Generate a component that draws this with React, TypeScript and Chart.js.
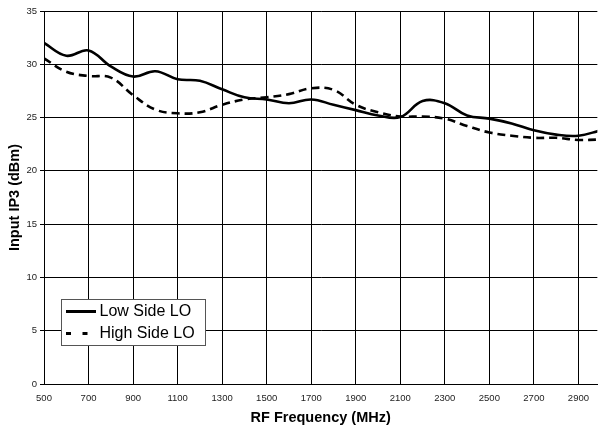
import React, { useEffect, useRef } from "react";
import { Chart, registerables } from "chart.js";

Chart.register(...registerables);

const freqMHz = [500, 600, 700, 800, 900, 1000, 1100, 1200, 1300, 1400, 1500, 1600, 1700, 1800, 1900, 2000, 2100, 2200, 2300, 2400, 2500, 2600, 2700, 2800, 2900, 3000];
const lowSideLO = [32.0, 30.8, 31.3, 29.8, 28.85, 29.35, 28.6, 28.45, 27.65, 26.9, 26.7, 26.35, 26.7, 26.2, 25.7, 25.2, 25.05, 26.55, 26.35, 25.2, 24.9, 24.45, 23.8, 23.4, 23.3, 23.8];
const highSideLO = [30.55, 29.3, 28.9, 28.75, 27.1, 25.75, 25.4, 25.5, 26.2, 26.7, 26.9, 27.2, 27.75, 27.6, 26.2, 25.5, 25.1, 25.1, 24.9, 24.2, 23.6, 23.3, 23.1, 23.1, 22.9, 22.95];
const xTickValues = [500, 700, 900, 1100, 1300, 1500, 1700, 1900, 2100, 2300, 2500, 2700, 2900];
const seriesNames = ["Low Side LO", "High Side LO"];

const FONT = "'Liberation Sans', Arial, sans-serif";

const legendPlugin = {
  id: "boxLegend",
  afterDraw(chart: any) {
    const { ctx, chartArea } = chart;
    const x = chartArea.left + 17;
    const y = chartArea.top + 288;
    const w = 144;
    const h = 46;
    ctx.save();
    ctx.fillStyle = "#fff";
    ctx.fillRect(x, y, w, h);
    ctx.strokeStyle = "#555";
    ctx.lineWidth = 1;
    ctx.strokeRect(x + 0.5, y + 0.5, w, h);
    ctx.font = `16px ${FONT}`;
    ctx.textBaseline = "middle";
    ctx.textAlign = "left";
    chart.data.datasets.forEach((ds: any, i: number) => {
      const cy = y + 12.5 + i * 22;
      ctx.beginPath();
      ctx.strokeStyle = ds.borderColor;
      ctx.lineWidth = 3;
      ctx.setLineDash(i === 0 ? [] : [5, 11.5]);
      ctx.moveTo(x + 5, cy);
      ctx.lineTo(x + 35, cy);
      ctx.stroke();
      ctx.setLineDash([]);
      ctx.fillStyle = "#000";
      ctx.fillText(ds.label, x + 38.5, cy + 0.5);
    });
    ctx.restore();
  },
};

export default function App() {
  const canvasRef = useRef<HTMLCanvasElement | null>(null);

  useEffect(() => {
    document.body.style.margin = "0";
    const canvas = canvasRef.current;
    if (!canvas) return;
    const chart = new Chart(canvas, {
      type: "line",
      data: {
        datasets: [
          {
            label: seriesNames[0],
            data: freqMHz.map((f, i) => ({ x: f, y: lowSideLO[i] })),
            borderColor: "#000",
            borderWidth: 2.6,
            pointRadius: 0,
            tension: 0.4,
            fill: false,
          },
          {
            label: seriesNames[1],
            data: freqMHz.map((f, i) => ({ x: f, y: highSideLO[i] })),
            borderColor: "#000",
            borderWidth: 2.6,
            borderDash: [8, 5],
            pointRadius: 0,
            tension: 0.4,
            fill: false,
          },
        ],
      },
      options: {
        animation: false,
        responsive: false,
        devicePixelRatio: 1,
        layout: { padding: { top: 11, right: 0, left: 0, bottom: 0 } },
        plugins: {
          legend: { display: false },
          tooltip: { enabled: false },
        },
        scales: {
          x: {
            type: "linear",
            min: 500,
            max: 2985,
            afterBuildTicks: (scale: any) => {
              scale.ticks = xTickValues.map((v) => ({ value: v }));
            },
            afterFit: (scale: any) => {
              scale.height = 44;
            },
            grid: { color: "#000", lineWidth: 1, drawTicks: false },
            border: { color: "#000", width: 1 },
            ticks: {
              padding: 9,
              maxRotation: 0,
              autoSkip: false,
              color: "#222",
              font: { family: FONT, size: 9.5 },
              callback: (v: any) => String(v),
            },
            title: {
              display: true,
              text: "RF Frequency (MHz)",
              color: "#000",
              font: { family: FONT, size: 14.5, weight: "bold" },
              padding: { top: 0, bottom: 1.3 },
            },
          },
          y: {
            type: "linear",
            min: 0,
            max: 35,
            afterFit: (scale: any) => {
              scale.width = 44;
            },
            grid: { color: "#000", lineWidth: 1, drawTicks: true, tickLength: 4 },
            border: { color: "#000", width: 1 },
            ticks: {
              stepSize: 5,
              padding: 3,
              color: "#222",
              font: { family: FONT, size: 9.5 },
              callback: (v: any) => String(v),
            },
            title: {
              display: true,
              text: "Input IP3 (dBm)",
              color: "#000",
              font: { family: FONT, size: 14.5, weight: "bold" },
              padding: { top: 6.3, bottom: 0 },
            },
          },
        },
      },
      plugins: [legendPlugin],
    });
    return () => chart.destroy();
  }, []);

  return (
    <div style={{ position: "absolute", left: 0, top: 0, width: 598, height: 428, background: "#fff" }}>
      <canvas ref={canvasRef} width={598} height={428} style={{ display: "block", width: 598, height: 428 }} />
    </div>
  );
}
